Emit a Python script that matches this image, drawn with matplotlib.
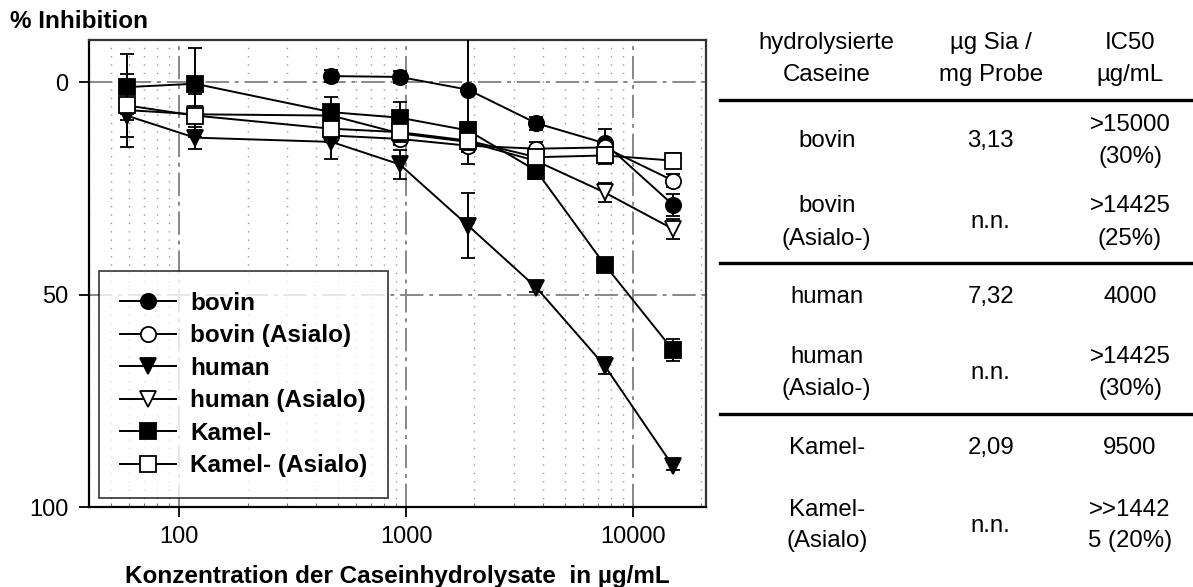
import numpy as np
import matplotlib
matplotlib.use("Agg")
import matplotlib.pyplot as plt
from matplotlib.lines import Line2D
from matplotlib.ticker import LogLocator, FixedLocator, NullFormatter, FixedFormatter

plt.rcParams['font.family'] = ['Liberation Sans', 'DejaVu Sans']

# ---------------- data ----------------
conc = [58.6, 117.2, 468.75, 937.5, 1875, 3750, 7500, 15000]
nan = np.nan
bovin = [nan, nan, -1.5, -1.3, 1.7, 9.6, 14.3, 28.8]
bovin_err = [nan, nan, 1.5, 1.5, 17.5, 1.5, 3.4, 2.6]
bovin_asialo = [nan, nan, 12.5, 13.3, 14.9, 15.6, 15.3, 23.1]
bovin_asialo_err = [nan, nan, 1.5, 1.5, 1.5, 1.5, 1.5, 1.5]
human = [7.8, 13.0, 14.0, 19.3, 33.7, 48.3, 66.7, 90.3]
human_err = [7.3, 2.6, 4.0, 3.4, 7.7, 1.0, 2.0, 1.0]
human_asialo = [6.5, 7.5, 7.8, 12.0, 14.0, 18.5, 25.9, 34.5]
human_asialo_err = [1.0, 1.0, 1.0, 2.0, 2.0, 2.0, 2.2, 2.4]
kamel = [1.1, 0.3, 7.0, 8.3, 11.3, 20.8, 42.9, 63.0]
kamel_err = [7.7, 8.3, 3.5, 3.8, 2.0, 2.0, 1.0, 2.6]
kamel_asialo = [5.4, 7.8, 10.9, 11.7, 13.7, 17.6, 17.2, 18.4]
kamel_asialo_err = [7.4, 5.0, 3.0, 2.0, 2.0, 2.0, 2.0, 1.7]

series_labels = ["bovin", "bovin (Asialo)", "human", "human (Asialo)",
                 "Kamel-", "Kamel- (Asialo)"]
x_ticks = [100, 1000, 10000]
x_ticklabels = ["100", "1000", "10000"]
y_ticks = [0, 50, 100]
y_ticklabels = ["0", "50", "100"]

col_headers = ["hydrolysierte\nCaseine", "µg Sia /\nmg Probe", "IC50\nµg/mL"]
samples = ["bovin", "bovin\n(Asialo-)", "human", "human\n(Asialo-)",
           "Kamel-", "Kamel-\n(Asialo)"]
sia = ["3,13", "n.n.", "7,32", "n.n.", "2,09", "n.n."]
ic50 = [">15000\n(30%)", ">14425\n(25%)", "4000", ">14425\n(30%)",
        "9500", ">>1442\n5 (20%)"]

# ---------------- figure ----------------
W, H = 1193, 587
fig = plt.figure(figsize=(W / 100, H / 100), dpi=100)
ax = fig.add_axes([89 / W, 1 - 507 / H, (706 - 89) / W, (507 - 40) / H])

styles = [
    dict(marker='o', mfc='black'),
    dict(marker='o', mfc='white'),
    dict(marker='v', mfc='black'),
    dict(marker='v', mfc='white'),
    dict(marker='s', mfc='black'),
    dict(marker='s', mfc='white'),
]
all_y = [bovin, bovin_asialo, human, human_asialo, kamel, kamel_asialo]
all_e = [bovin_err, bovin_asialo_err, human_err, human_asialo_err,
         kamel_err, kamel_asialo_err]

handles = []
for i, (yv, ev, st, lab) in enumerate(zip(all_y, all_e, styles, series_labels)):
    x = np.array(conc)
    y = np.array(yv, dtype=float)
    e = np.array(ev, dtype=float)
    m = ~np.isnan(y)
    ax.errorbar(x[m], y[m], yerr=e[m], color='black', lw=1.4,
                marker=st['marker'], mfc=st['mfc'], mec='black', mew=1.3,
                ms=11, elinewidth=1.4, capsize=4.8, capthick=1.4,
                zorder=3 + i, label=lab)
    handles.append(Line2D([], [], color='black', lw=1.4, marker=st['marker'],
                          mfc=st['mfc'], mec='black', mew=1.3, ms=11))

ax.set_xscale('log')
ax.set_xlim(40, 21000)
ax.set_ylim(100, -10)

ax.xaxis.set_major_locator(FixedLocator(x_ticks))
ax.xaxis.set_major_formatter(FixedFormatter(x_ticklabels))
ax.xaxis.set_minor_locator(LogLocator(base=10, subs=range(2, 10), numticks=20))
ax.xaxis.set_minor_formatter(NullFormatter())
ax.yaxis.set_major_locator(FixedLocator(y_ticks))
ax.yaxis.set_major_formatter(FixedFormatter(y_ticklabels))

ax.tick_params(axis='both', which='major', direction='out', length=7, width=1.3,
               labelsize=17, color='black')
ax.tick_params(axis='x', which='major', pad=7)
ax.tick_params(axis='y', which='major', pad=8)
ax.tick_params(axis='x', which='minor', direction='in', length=3, width=0.8,
               color='#777777')
ax.tick_params(axis='y', which='minor', left=False)

# grid
dashdot = (0, (12, 3, 2, 3))
ax.grid(True, which='major', axis='both', color='#888888', lw=1.4, ls=dashdot,
        zorder=0)
ax.grid(True, which='minor', axis='x', color='#999999', lw=1.0, ls=(0, (1, 5)),
        zorder=0)
ax.set_axisbelow(True)

for s in ax.spines.values():
    s.set_linewidth(1.6)
    s.set_color('#333333')
ax.spines['left'].set_color('black')
ax.spines['bottom'].set_color('black')

leg = ax.legend(handles, series_labels, loc='lower left',
                bbox_to_anchor=(10 / 617, 9 / 467), borderaxespad=0,
                frameon=True, fancybox=False, edgecolor='black',
                prop=dict(weight='bold', size=17.5), handlelength=2.3,
                handletextpad=0.6, labelspacing=0.39, borderpad=0.85)
leg.get_frame().set_linewidth(1.2)
leg.set_zorder(20)

ax.set_xlabel("Konzentration der Caseinhydrolysate  in µg/mL",
              fontsize=17.5, fontweight='bold')
ax.xaxis.label.set_va('center')
ax.xaxis.set_label_coords(0.5, (507 - 576) / 467)

fig.text(10 / W, 1 - 22 / H, "% Inhibition", fontsize=17.5, fontweight='bold',
         ha='left', va='center')

# ---------------- table ----------------
col_x = [826.7, 990.7, 1130]
header_y = 59
row_y = [140.7, 222.5, 297.3, 373, 448.3, 525.5]
gap = 32
fs_tab = 17.3


def put(xc, yc, txt):
    lines = txt.split('\n')
    n = len(lines)
    for k, ln in enumerate(lines):
        yy = yc + (k - (n - 1) / 2) * gap
        fig.text(xc / W, 1 - yy / H, ln, fontsize=fs_tab, ha='center',
                 va='center')


for cx, h in zip(col_x, col_headers):
    put(cx, header_y, h)
for r in range(len(samples)):
    put(col_x[0], row_y[r], samples[r])
    put(col_x[1], row_y[r], sia[r])
    put(col_x[2], row_y[r], ic50[r])

for yy in [99.5, 262.7, 414.3]:
    fig.add_artist(Line2D([720 / W, 1.0], [1 - yy / H, 1 - yy / H],
                          color='black', lw=2.4, transform=fig.transFigure))

fig.savefig("out.png", dpi=100)
